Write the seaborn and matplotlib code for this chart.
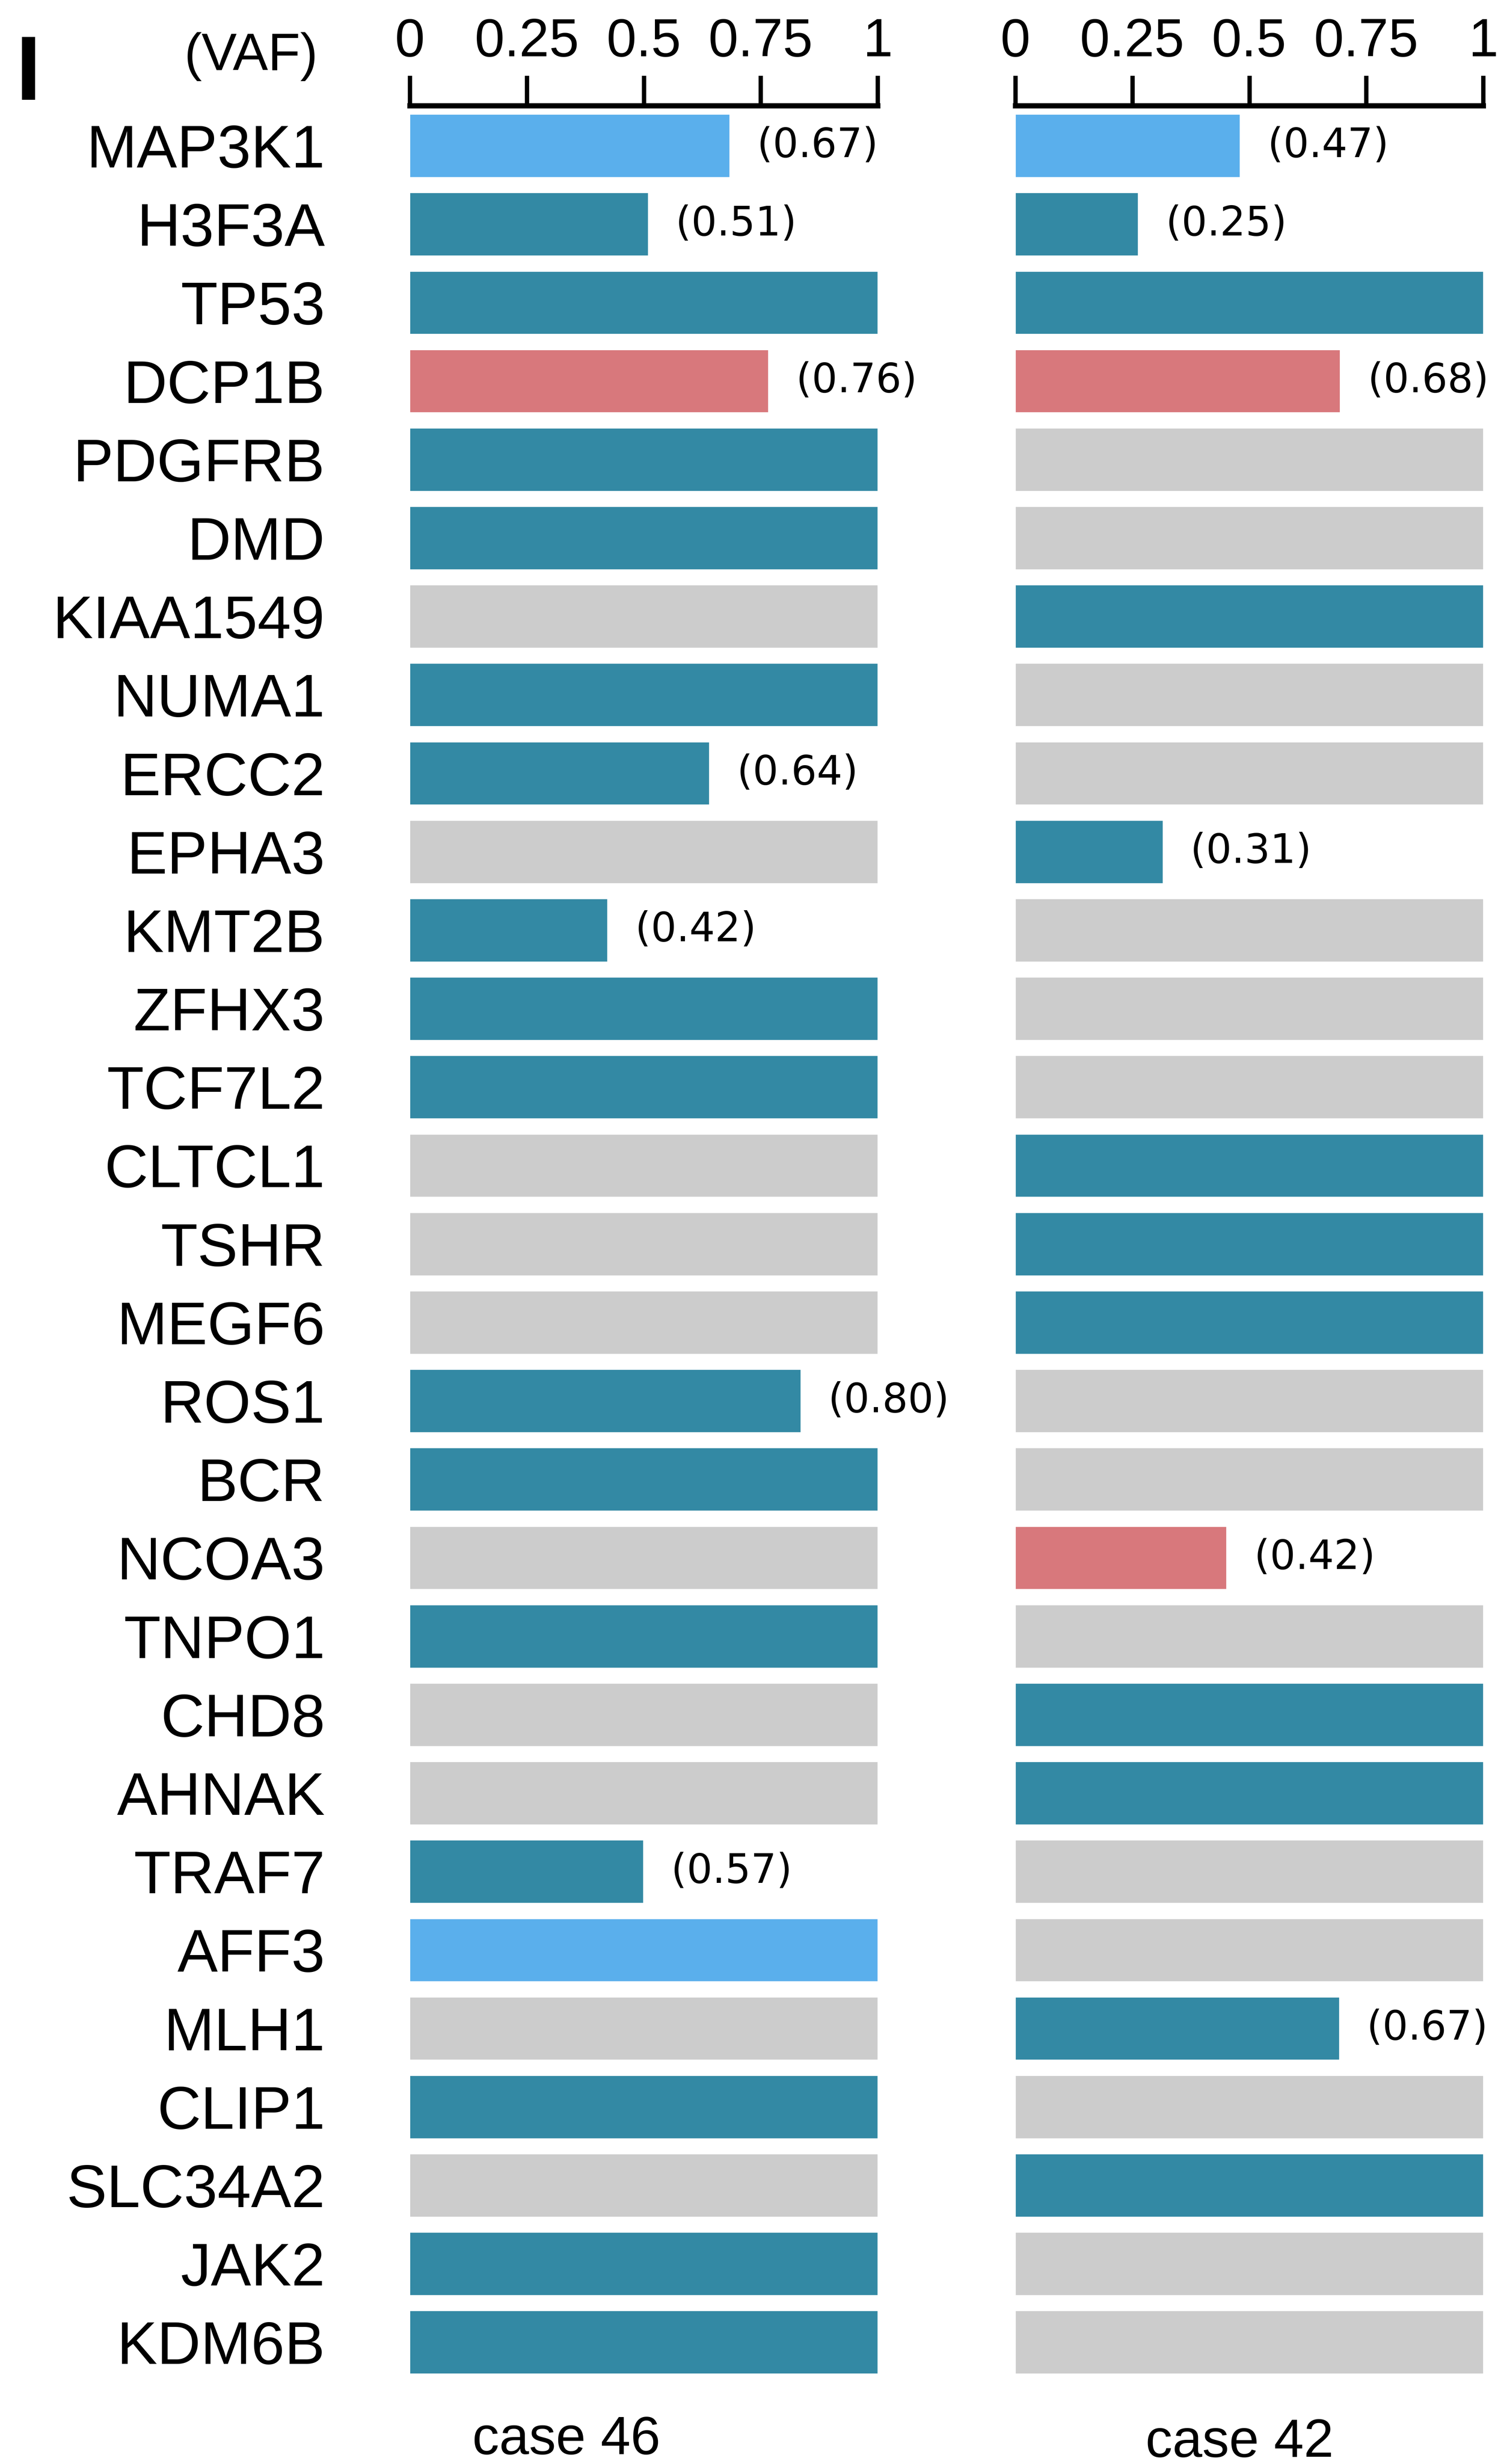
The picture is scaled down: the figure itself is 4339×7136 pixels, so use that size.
import matplotlib
matplotlib.use("Agg")
import numpy as np
import pandas as pd
import seaborn as sns
import matplotlib.pyplot as plt

# genes, top to bottom
genes = ['MAP3K1', 'H3F3A', 'TP53', 'DCP1B', 'PDGFRB', 'DMD', 'KIAA1549', 'NUMA1',
         'ERCC2', 'EPHA3', 'KMT2B', 'ZFHX3', 'TCF7L2', 'CLTCL1', 'TSHR', 'MEGF6',
         'ROS1', 'BCR', 'NCOA3', 'TNPO1', 'CHD8', 'AHNAK', 'TRAF7', 'AFF3', 'MLH1',
         'CLIP1', 'SLC34A2', 'JAK2', 'KDM6B']

# bar length as drawn (VAF), 1 = full / not mutated
case46_vaf = [0.683, 0.509, 1, 0.766, 1, 1, 1, 1, 0.640, 1, 0.422, 1, 1, 1, 1, 1,
              0.835, 1, 1, 1, 1, 1, 0.499, 1, 1, 1, 1, 1, 1]
case42_vaf = [0.480, 0.262, 1, 0.694, 1, 1, 1, 1, 1, 0.315, 1, 1, 1, 1, 1, 1,
              1, 1, 0.451, 1, 1, 1, 1, 1, 0.692, 1, 1, 1, 1]

# b = blue, t = teal, r = red, n = grey (no mutation)
case46_type = ['b', 't', 't', 'r', 't', 't', 'n', 't', 't', 'n', 't', 't', 't', 'n', 'n', 'n',
               't', 't', 'n', 't', 'n', 'n', 't', 'b', 'n', 't', 'n', 't', 't']
case42_type = ['b', 't', 't', 'r', 'n', 'n', 't', 'n', 'n', 't', 'n', 'n', 'n', 't', 't', 't',
               'n', 'n', 'r', 'n', 't', 't', 'n', 'n', 't', 'n', 't', 'n', 'n']

case46_text = ['(0.67)', '(0.51)', '', '(0.76)', '', '', '', '', '(0.64)', '', '(0.42)', '', '', '', '', '',
               '(0.80)', '', '', '', '', '', '(0.57)', '', '', '', '', '', '']
case42_text = ['(0.47)', '(0.25)', '', '(0.68)', '', '', '', '', '', '(0.31)', '', '', '', '', '', '',
               '', '', '(0.42)', '', '', '', '', '', '(0.67)', '', '', '', '']

ticks = [0, 0.25, 0.5, 0.75, 1]
tick_labels = ['0', '0.25', '0.5', '0.75', '1']
cases = ['case 46', 'case 42']

colores = {'b': '#5AAFEC', 't': '#3389A4', 'r': '#D8787C', 'n': '#CCCCCC'}

sns.set_style('white')
plt.rcParams['font.family'] = ['Liberation Sans', 'DejaVu Sans']
plt.rcParams['text.color'] = 'black'
plt.rcParams['xtick.labelcolor'] = 'black'
plt.rcParams['ytick.labelcolor'] = 'black'

fig = plt.figure(figsize=(43.39, 71.36), dpi=100)
ax1 = fig.add_axes([0.2736, 0.0335, 0.3123, 0.9236])
ax2 = fig.add_axes([0.6778, 0.0335, 0.3123, 0.9236])

paineis = [(ax1, case46_vaf, case46_type, case46_text),
           (ax2, case42_vaf, case42_type, case42_text)]

for ax, vaf, tipo, texto in paineis:
    df = pd.DataFrame({'gene': genes, 'vaf': vaf, 'tipo': tipo})
    sns.barplot(data=df, x='vaf', y='gene', hue='tipo', order=genes, palette=colores,
                dodge=False, legend=False, width=0.8, saturation=1, orient='h', ax=ax)
    for i, t in enumerate(texto):
        if t:
            ax.annotate(t, (vaf[i], i), xytext=(58, 0), textcoords='offset points',
                        va='center', ha='left', fontsize=84, family='DejaVu Sans',
                        color='black')
    ax.set_xlim(0, 1)
    ax.set_ylim(28.5, -0.51)
    ax.set_xlabel('')
    ax.set_ylabel('')
    ax.xaxis.tick_top()
    ax.set_xticks(ticks)
    ax.set_xticklabels(tick_labels)
    ax.tick_params(axis='x', direction='out', length=63, width=9, pad=17,
                   labelsize=112, color='black', labelcolor='black', top=True, bottom=False)
    for s in ['left', 'right', 'bottom']:
        ax.spines[s].set_visible(False)
    ax.spines['top'].set_linewidth(11)
    ax.spines['top'].set_color('black')

ax1.tick_params(axis='y', length=0, pad=177, labelsize=126, labelcolor='black')
ax2.set_yticks([])

fig.text(0.2123, 0.977, '(VAF)', ha='right', va='center', fontsize=110, color='black')
fig.text(0.019, 0.9595, 'I', ha='center', va='baseline', fontsize=190, fontweight='bold',
         color='black')
fig.text(0.378, 0.004, cases[0], ha='center', va='baseline', fontsize=112, color='black')
fig.text(0.8274, 0.003, cases[1], ha='center', va='baseline', fontsize=112, color='black')

fig.savefig('out.png', dpi=100, facecolor='white')
